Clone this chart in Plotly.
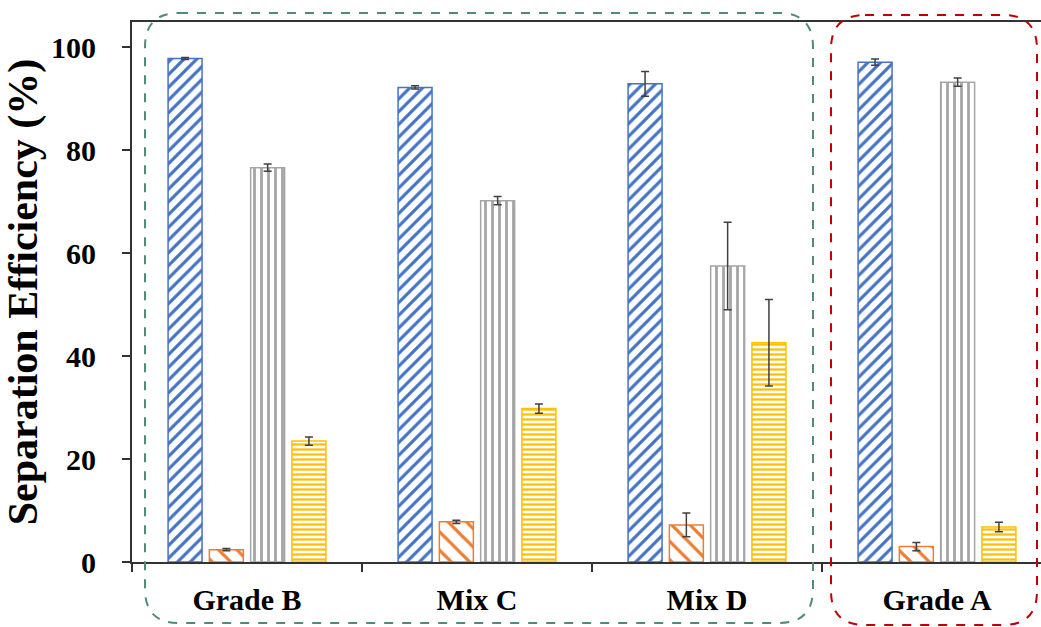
import plotly.graph_objects as go

categories = ["Grade B", "Mix C", "Mix D", "Grade A"]
series_names = ["Series 1", "Series 2", "Series 3", "Series 4"]
blue_vals = [97.8, 92.2, 92.9, 97.1]
blue_err = [0.2, 0.3, 2.4, 0.6]
orange_vals = [2.4, 7.8, 7.2, 3.0]
orange_err = [0.2, 0.3, 2.3, 0.8]
gray_vals = [76.6, 70.2, 57.5, 93.2]
gray_err = [0.7, 0.8, 8.5, 0.8]
yellow_vals = [23.5, 29.8, 42.6, 6.8]
yellow_err = [0.8, 0.9, 8.4, 0.9]
y_ticks = [0, 20, 40, 60, 80, 100]

colors = ["#4472C4", "#ED7D31", "#A5A5A5", "#FFC000"]
shapes_p = ["/", "\\", "|", "-"]
sizes = [9, 13, 7, 5]
solid = [0.35, 0.25, 0.4, 0.45]

FONT = "Liberation Serif, Times New Roman, serif"
W, H = 1041, 627
L, T, B, R = 132, 22, 65, 0

fig = go.Figure()
vals = [blue_vals, orange_vals, gray_vals, yellow_vals]
errs = [blue_err, orange_err, gray_err, yellow_err]
for i in range(4):
    fig.add_trace(go.Bar(
        x=categories, y=vals[i], name=series_names[i],
        marker=dict(color="white",
                    line=dict(color=colors[i], width=1.5),
                    pattern=dict(shape=shapes_p[i], fgcolor=colors[i], bgcolor="white",
                                 fgopacity=1, size=sizes[i], solidity=solid[i],
                                 fillmode="overlay")),
        error_y=dict(type="data", array=errs[i], visible=True, color="#404040",
                     thickness=1.5, width=4),
    ))

pw = W - L - R
ph = H - T - B

def px2paper(x, y):
    return (x - L) / pw, (H - B - y) / ph

def rounded_rect(x0, y0, x1, y1, r):
    def P(x, y):
        a, b = px2paper(x, y)
        return f"{a:.5f},{b:.5f}"
    path = (f"M {P(x0 + r, y0)} L {P(x1 - r, y0)} Q {P(x1, y0)} {P(x1, y0 + r)} "
            f"L {P(x1, y1 - r)} Q {P(x1, y1)} {P(x1 - r, y1)} "
            f"L {P(x0 + r, y1)} Q {P(x0, y1)} {P(x0, y1 - r)} "
            f"L {P(x0, y0 + r)} Q {P(x0, y0)} {P(x0 + r, y0)} Z")
    return path

fig.add_shape(type="path", xref="paper", yref="paper",
              path=rounded_rect(145, 13, 813, 623, 34),
              line=dict(color="#4E8C78", width=2, dash="dash"), layer="above")
fig.add_shape(type="path", xref="paper", yref="paper",
              path=rounded_rect(831, 15, 1037, 625, 34),
              line=dict(color="#C00000", width=2, dash="dash"), layer="above")

fig.update_layout(
    width=W, height=H,
    margin=dict(l=L, r=R, t=T, b=B, autoexpand=False),
    plot_bgcolor="white", paper_bgcolor="white",
    showlegend=False,
    barmode="group", bargap=0.282, bargroupgap=0.177,
    font=dict(family=FONT, color="black"),
)
fig.update_xaxes(
    type="category", range=[-0.5, -0.5 + pw / 230.0], automargin=False,
    showline=True, linecolor="#333333", linewidth=2, mirror=True,
    ticks="outside", tickson="boundaries", ticklen=8, tickcolor="#333333", tickwidth=1.5,
    tickfont=dict(family=FONT, size=30, color="black", weight="bold"),
    ticklabelstandoff=10, showgrid=False,
)
fig.update_yaxes(
    range=[0, 104.9], tickvals=y_ticks, automargin=False,
    showline=True, linecolor="#333333", linewidth=2,
    ticks="outside", ticklen=8, tickcolor="#333333", tickwidth=1.5,
    tickfont=dict(family=FONT, size=30, color="black", weight="bold"),
    ticklabelstandoff=20, showgrid=False, zeroline=False,
    title=dict(text="Separation Efficiency (%)", standoff=10,
               font=dict(family=FONT, size=42, color="black", weight="bold")),
)

fig.write_html("out.html", config={"displayModeBar": False},
               post_script="document.body.style.margin='0';document.body.style.padding='0';")
